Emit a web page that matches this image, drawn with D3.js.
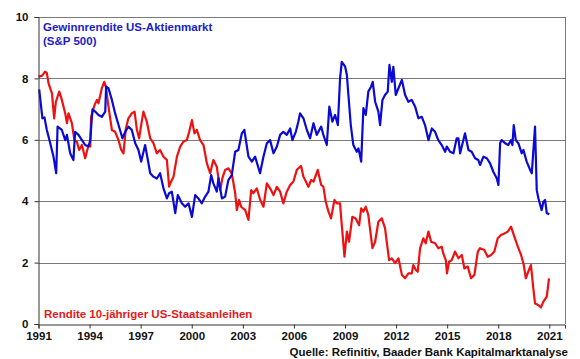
<!DOCTYPE html>
<html>
<head>
<meta charset="utf-8">
<script src="https://cdn.jsdelivr.net/npm/d3@7"></script>
<style>
  body { margin: 0; background: #fff; }
  svg { display: block; font-family: "Liberation Sans", Arial, sans-serif; font-weight: bold; }
</style>
</head>
<body>
<svg id="chart" width="580" height="359"></svg>
<script>
// Gewinnrendite S&P 500 (decimal years + values)
const earnYears = [1991.04, 1991.23, 1991.35, 1991.49, 1991.69, 1991.88, 1992.04, 1992.12, 1992.37, 1992.57, 1992.67, 1992.86,
  1993.05, 1993.15, 1993.35, 1993.55, 1993.74, 1993.94, 1994.04, 1994.17, 1994.33, 1994.52, 1994.72, 1994.92, 1994.97,
  1995.11, 1995.31, 1995.50, 1995.70, 1995.93, 1996.09, 1996.28, 1996.48, 1996.68, 1996.87, 1997.03, 1997.26, 1997.46,
  1997.56, 1997.75, 1997.95, 1998.14, 1998.34, 1998.54, 1998.67, 1998.83, 1999.03, 1999.18, 1999.42, 1999.61, 1999.81,
  2000.01, 2000.20, 2000.39, 2000.59, 2000.79, 2000.98, 2001.14, 2001.27, 2001.47, 2001.57, 2001.77, 2001.96, 2002.15,
  2002.35, 2002.55, 2002.74, 2002.94, 2003.09, 2003.33, 2003.53, 2003.72, 2004.01, 2004.21, 2004.41, 2004.60, 2004.80,
  2005.00, 2005.19, 2005.38, 2005.58, 2005.78, 2005.91, 2006.11, 2006.26, 2006.36, 2006.56, 2006.76, 2006.95, 2007.15,
  2007.34, 2007.60, 2007.73, 2007.93, 2008.08, 2008.26, 2008.42, 2008.58, 2008.71, 2008.81, 2009.01, 2009.11, 2009.20,
  2009.34, 2009.49, 2009.69, 2009.79, 2009.95, 2010.08, 2010.22, 2010.37, 2010.53, 2010.63, 2010.77, 2010.96, 2011.06,
  2011.20, 2011.35, 2011.51, 2011.61, 2011.75, 2011.84, 2011.98, 2012.14, 2012.34, 2012.53, 2012.72, 2012.92, 2013.12,
  2013.31, 2013.51, 2013.70, 2013.90, 2014.10, 2014.29, 2014.48, 2014.68, 2014.88, 2014.98, 2015.17, 2015.37, 2015.56,
  2015.66, 2015.76, 2016.05, 2016.25, 2016.44, 2016.64, 2016.83, 2016.93, 2017.13, 2017.33, 2017.52, 2017.71, 2017.91,
  2018.01, 2018.11, 2018.20, 2018.40, 2018.59, 2018.75, 2018.83, 2018.91, 2019.03, 2019.18, 2019.38, 2019.48, 2019.67,
  2019.87, 2019.97, 2020.16, 2020.26, 2020.36, 2020.55, 2020.65, 2020.75, 2020.85, 2021.00];
const earnValues = [7.64, 6.70, 6.73, 6.32, 5.89, 5.45, 4.91, 6.43, 6.32, 5.99, 6.16, 5.56,
  5.34, 6.26, 6.16, 5.99, 5.83, 5.78, 5.99, 6.99, 6.92, 6.81, 6.75, 6.92, 7.73,
  7.68, 7.30, 6.86, 6.48, 6.05, 6.26, 6.43, 6.32, 5.89, 5.67, 5.29, 5.83, 5.23,
  4.91, 4.80, 4.74, 4.91, 4.42, 4.09, 4.26, 4.31, 3.61, 4.20, 3.93, 3.82, 3.93,
  3.49, 4.20, 4.09, 3.93, 4.15, 4.31, 4.85, 4.58, 4.31, 4.75, 4.09, 4.15, 4.69,
  4.85, 5.61, 5.67, 6.21, 6.32, 5.45, 5.29, 5.45, 4.91, 5.45, 5.89, 5.99, 5.56,
  5.78, 6.16, 6.26, 6.16, 6.37, 5.99, 6.26, 6.59, 6.86, 6.70, 6.32, 6.05, 6.54,
  6.16, 6.43, 6.16, 5.83, 7.08, 6.59, 6.81, 6.48, 8.00, 8.54, 8.38, 8.11, 7.46,
  6.48, 5.83, 5.61, 5.72, 5.29, 7.03, 6.81, 7.57, 7.73, 7.89, 7.24, 6.92, 6.48,
  7.30, 7.46, 7.57, 8.44, 7.89, 8.38, 7.46, 7.68, 7.95, 7.46, 7.24, 7.30, 7.08,
  6.70, 6.75, 6.48, 5.99, 6.37, 6.26, 5.99, 5.83, 5.61, 5.78, 5.61, 5.56, 6.05,
  6.05, 5.56, 6.21, 5.67, 5.61, 5.40, 5.34, 5.18, 5.45, 5.40, 5.23, 4.96, 4.75,
  4.53, 5.89, 5.99, 5.89, 5.83, 5.99, 5.83, 6.48, 5.99, 5.89, 5.56, 5.67, 5.29,
  5.02, 4.91, 6.43, 4.36, 4.09, 3.71, 3.98, 4.04, 3.61, 3.58];

// Rendite 10-jähriger US-Staatsanleihen
const bondYears = [1991.00, 1991.20, 1991.39, 1991.49, 1991.59, 1991.79, 1991.92, 1992.02, 1992.22, 1992.37, 1992.57, 1992.67,
  1992.76, 1992.96, 1993.11, 1993.25, 1993.39, 1993.55, 1993.74, 1993.94, 1994.04, 1994.09, 1994.29, 1994.43, 1994.52,
  1994.72, 1994.86, 1994.96, 1995.07, 1995.21, 1995.31, 1995.50, 1995.70, 1995.86, 1995.99, 1996.13, 1996.28, 1996.48,
  1996.64, 1996.78, 1996.91, 1997.03, 1997.16, 1997.36, 1997.56, 1997.75, 1997.95, 1998.14, 1998.34, 1998.54, 1998.67,
  1998.73, 1998.93, 1999.13, 1999.32, 1999.51, 1999.71, 1999.85, 2000.01, 2000.16, 2000.30, 2000.49, 2000.69, 2000.89,
  2001.08, 2001.27, 2001.47, 2001.67, 2001.80, 2001.96, 2002.15, 2002.35, 2002.55, 2002.65, 2002.78, 2002.90, 2003.14,
  2003.33, 2003.49, 2003.62, 2003.82, 2004.02, 2004.21, 2004.41, 2004.60, 2004.80, 2005.00, 2005.19, 2005.38, 2005.58,
  2005.78, 2005.97, 2006.17, 2006.36, 2006.42, 2006.56, 2006.70, 2006.85, 2007.01, 2007.15, 2007.40, 2007.60, 2007.73,
  2007.87, 2008.03, 2008.18, 2008.38, 2008.52, 2008.71, 2008.77, 2008.97, 2009.11, 2009.24, 2009.43, 2009.63, 2009.83,
  2009.95, 2010.08, 2010.22, 2010.37, 2010.61, 2010.77, 2010.96, 2011.16, 2011.35, 2011.59, 2011.75, 2011.94, 2012.14,
  2012.34, 2012.53, 2012.72, 2012.92, 2013.01, 2013.16, 2013.27, 2013.41, 2013.60, 2013.74, 2013.90, 2014.06, 2014.29,
  2014.48, 2014.68, 2014.77, 2014.92, 2014.99, 2015.11, 2015.27, 2015.46, 2015.66, 2015.86, 2016.01, 2016.21, 2016.40,
  2016.60, 2016.80, 2016.93, 2017.18, 2017.38, 2017.58, 2017.77, 2017.97, 2018.16, 2018.36, 2018.56, 2018.75, 2018.95,
  2019.15, 2019.34, 2019.50, 2019.62, 2019.80, 2019.92, 2020.06, 2020.16, 2020.35, 2020.51, 2020.65, 2020.85, 2020.98];
const bondValues = [8.06, 8.08, 8.22, 8.17, 7.84, 7.51, 6.70, 7.24, 7.57, 7.30, 6.86, 6.54,
  6.86, 6.54, 5.99, 5.94, 5.67, 5.83, 5.40, 5.83, 5.78, 6.75, 7.13, 7.30, 7.19,
  7.68, 7.89, 7.73, 7.24, 6.70, 6.32, 6.26, 5.99, 5.67, 5.56, 6.37, 6.70, 6.86,
  6.92, 6.32, 6.05, 6.48, 6.92, 6.59, 6.05, 5.89, 5.56, 5.67, 5.45, 5.34, 4.47,
  4.58, 4.80, 5.45, 5.78, 5.94, 5.99, 6.26, 6.64, 6.21, 6.32, 5.99, 5.83, 5.23,
  4.91, 5.34, 5.12, 4.36, 4.75, 5.02, 5.07, 4.91, 4.26, 3.71, 4.04, 3.82, 3.71,
  3.39, 4.36, 4.26, 4.42, 4.04, 3.82, 4.58, 4.42, 4.20, 4.47, 4.31, 3.93, 4.31,
  4.53, 4.64, 5.02, 5.12, 5.15, 4.80, 4.64, 4.47, 4.69, 4.64, 5.02, 4.53, 4.47,
  3.98, 3.66, 3.44, 4.04, 3.93, 3.93, 3.49, 2.19, 3.01, 2.68, 3.49, 3.44, 3.22,
  3.77, 3.66, 3.82, 3.55, 2.47, 2.68, 3.33, 3.44, 3.12, 2.08, 2.14, 1.98, 2.14,
  1.60, 1.49, 1.65, 1.65, 1.92, 1.76, 1.70, 2.47, 2.79, 2.63, 3.01, 2.68, 2.63,
  2.47, 2.52, 2.30, 2.08, 1.65, 2.03, 2.08, 2.36, 2.14, 2.25, 1.81, 1.87, 1.49,
  1.60, 2.36, 2.47, 2.41, 2.19, 2.25, 2.36, 2.79, 2.90, 2.95, 3.01, 3.17, 2.84,
  2.52, 2.25, 1.92, 1.49, 1.76, 1.92, 1.16, 0.67, 0.62, 0.54, 0.73, 0.89, 1.49];

const xTicks = [1991, 1994, 1997, 2000, 2003, 2006, 2009, 2012, 2015, 2018, 2021];
const yTicks = [0, 2, 4, 6, 8, 10];

const margin = { left: 38.5, right: 15, top: 17, bottom: 35 };
const W = 580, H = 359;

const svg = d3.select('#chart');
const x = d3.scaleLinear().domain([1991, 2021.92]).range([margin.left, W - margin.right]);
const y = d3.scaleLinear().domain([0, 10]).range([H - margin.bottom, margin.top]);

// grid lines (incl. top border)
svg.append('g').selectAll('line')
  .data(yTicks.filter(d => d > 0))
  .enter().append('line')
  .attr('x1', x.range()[0]).attr('x2', x.range()[1])
  .attr('y1', d => Math.round(y(d)) + 0.5).attr('y2', d => Math.round(y(d)) + 0.5)
  .attr('stroke', '#7a7a7a').attr('stroke-width', 1)

// right border
svg.append('line')
  .attr('x1', x.range()[1] + 0.5).attr('x2', x.range()[1] + 0.5)
  .attr('y1', y(10)).attr('y2', y(0))
  .attr('stroke', '#7a7a7a')

const line = d3.line()
  .x(d => x(d[0]))
  .y(d => y(d[1]))

const earn = earnYears.map((t, i) => [t, earnValues[i]]);
const bond = bondYears.map((t, i) => [t, bondValues[i]]);

svg.append('path').datum(bond)
  .attr('d', line)
  .attr('fill', 'none').attr('stroke', '#ee1111').attr('stroke-width', 2.2)
  .attr('stroke-linejoin', 'round')

svg.append('path').datum(earn)
  .attr('d', line)
  .attr('fill', 'none').attr('stroke', '#0a0ad2').attr('stroke-width', 2.2)
  .attr('stroke-linejoin', 'round')

// axes
const xAxis = d3.axisBottom(x).tickValues(xTicks).tickFormat(d3.format('d')).tickSize(4).tickPadding(3);
const yAxis = d3.axisLeft(y).tickValues(yTicks).tickSize(4).tickPadding(6);

const gx = svg.append('g').attr('transform', `translate(0,${Math.round(y(0)) + 0.5})`).call(xAxis);
const gy = svg.append('g').attr('transform', `translate(${margin.left},0)`).call(yAxis);

[gx, gy].forEach(g => {
  g.select('.domain').attr('stroke', '#333');
  g.selectAll('.tick line').attr('stroke', '#333');
  g.selectAll('text').attr('fill', '#111')
    .style('font-size', '11.5px').style('font-family', '"Liberation Sans", Arial, sans-serif').style('font-weight', 'bold');
})

// labels
svg.append('text').attr('x', 43).attr('y', 31)
  .attr('fill', '#1c1cc8').style('font-size', '11.5px')
  .text('Gewinnrendite US-Aktienmarkt')
svg.append('text').attr('x', 43).attr('y', 45)
  .attr('fill', '#1c1cc8').style('font-size', '11.5px')
  .text('(S&P 500)')
svg.append('text').attr('x', 44).attr('y', 317.5)
  .attr('fill', '#e21a1a').style('font-size', '11.5px')
  .text('Rendite 10-jähriger US-Staatsanleihen')
svg.append('text').attr('x', 568).attr('y', 356)
  .attr('text-anchor', 'end')
  .attr('fill', '#111').style('font-size', '11.5px')
  .text('Quelle: Refinitiv, Baader Bank Kapitalmarktanalyse')
</script>
</body>
</html>
